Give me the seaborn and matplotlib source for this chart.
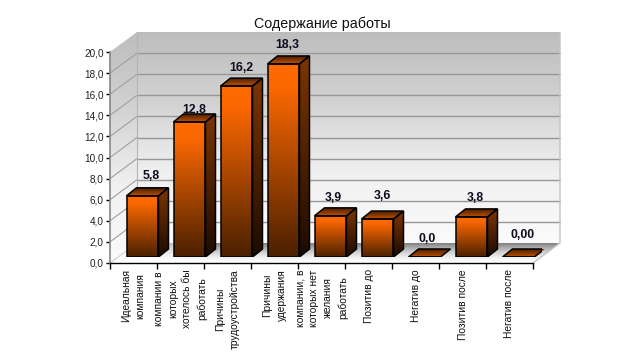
import numpy as np
import seaborn as sns
import matplotlib
matplotlib.use('Agg')
import matplotlib.pyplot as plt
from matplotlib.colors import LinearSegmentedColormap
from matplotlib.patches import Polygon

categories = ['Идеальная\nкомпания', 'компании в\nкоторых\nхотелось бы\nработать', 'Причины\nтрудоустройства',
	'Причины\nудержания', 'компании, в\nкоторых нет\nжелания\nработать', 'Позитив до', 'Негатив до',
	'Позитив после', 'Негатив после']
values = [5.8, 12.8, 16.2, 18.3, 3.9, 3.6, 0.0, 3.8, 0.0]
value_labels = ['5,8', '12,8', '16,2', '18,3', '3,9', '3,6', '0,0', '3,8', '0,00']
y_ticks = [0, 2, 4, 6, 8, 10, 12, 14, 16, 18, 20]
y_tick_labels = ['0,0', '2,0', '4,0', '6,0', '8,0', '10,0', '12,0', '14,0', '16,0', '18,0', '20,0']

# label nudges in px, the labels do not sit evenly over the bars
label_dx = [8.5, 4.5, 5, 4, 3, 4.7, 3, 4, 4]
label_dy = [12, 3.7, 10, 10.7, 10, 15, 10, 11, 14]

W, H = 644, 356
sns.set_theme(style='white')
plt.rcParams['font.family'] = ['Liberation Sans', 'DejaVu Sans']

fig = plt.figure(figsize=(W/100, H/100), dpi=100, facecolor='white')


def px_axes(left, top, right, bottom):
	return fig.add_axes([left/W, 1-bottom/H, (right-left)/W, (bottom-top)/H])


def grad(ax, extent, cmap, clip, zorder=1):
	im = ax.imshow(np.linspace(0, 1, 256).reshape(-1, 1), extent=extent, cmap=cmap, aspect='auto',
		origin='upper', zorder=zorder, vmin=0, vmax=1)
	im.set_clip_box(fig.bbox)
	im.set_clip_path(clip)
	return im


cm_wall = LinearSegmentedColormap.from_list('wall', ['#bdbdbd', '#d2d2d2', '#f0f0f0', '#fbfbfb'])
cm_front = LinearSegmentedColormap.from_list('front', [(0, '#ff6a00'), (0.12, '#fc6800'), (1, '#4a2000')])
cm_side = LinearSegmentedColormap.from_list('side', ['#7e3600', '#1c0b00'])
cm_top = LinearSegmentedColormap.from_list('top', ['#4a2000', '#c05000'])

# front plane axes, carries the ticks
ax = px_axes(110, 52, 533, 263)
ax.patch.set_visible(False)
xmin, xmax = -0.5, len(categories)-0.5
wall_dx = 27/47
wall_dy = 20/10.55

back = Polygon([(xmin+wall_dx, wall_dy), (xmax+wall_dx, wall_dy), (xmax+wall_dx, 20+wall_dy), (xmin+wall_dx, 20+wall_dy)],
	transform=ax.transData, fill=False, ec='none')
left = Polygon([(xmin, 0), (xmin+wall_dx, wall_dy), (xmin+wall_dx, 20+wall_dy), (xmin, 20)],
	transform=ax.transData, fill=False, ec='none')
floor = Polygon([(xmin, 0), (xmin+wall_dx, wall_dy), (xmax+wall_dx, wall_dy), (xmax, 0)],
	transform=ax.transData, fill=False, ec='none')
ax.add_patch(back)
ax.add_patch(left)
ax.add_patch(floor)
grad(ax, (xmin+wall_dx, xmax+wall_dx, wall_dy, 20+wall_dy), cm_wall, back)
grad(ax, (xmin, xmin+wall_dx, 0, 20+wall_dy), cm_wall, left)

# shadow on the floor, dark at the wall and fading out to the front and left
vfade = np.linspace(1, 0, 64)[:, None]**1.6
hfade = np.clip(np.linspace(-0.2, 5, 256), 0, 1)[None, :]
shadow = np.zeros((64, 256, 4))
shadow[..., :3] = 0.5
shadow[..., 3] = vfade*hfade
floor_im = ax.imshow(shadow, extent=(xmin, xmax+wall_dx, 0, wall_dy), aspect='auto', origin='upper', zorder=1)
floor_im.set_clip_box(fig.bbox)
floor_im.set_clip_path(floor)

for t in y_ticks[1:-1]:
	ax.plot([xmin+wall_dx, xmax+wall_dx], [t+wall_dy, t+wall_dy], color='#979797', lw=1, zorder=2, clip_on=False)
	ax.plot([xmin, xmin+wall_dx], [t, t+wall_dy], color='#a0a0a0', lw=0.8, zorder=2, clip_on=False)
ax.plot([xmin, xmin+wall_dx], [0, wall_dy], color='#d0d0d0', lw=0.8, zorder=2, clip_on=False)
ax.plot([xmax, xmax+wall_dx, xmax+wall_dx], [0, wall_dy, 20+wall_dy], color='#c4c4c4', lw=1, zorder=2, clip_on=False)
ax.plot([xmin+wall_dx, xmin+wall_dx], [wall_dy, 20+wall_dy], color='#b4b4b4', lw=0.8, zorder=2, clip_on=False)

ax.set_xlim(xmin, xmax)
ax.set_ylim(0, 20)
ax.set_yticks(y_ticks, labels=y_tick_labels)
ax.set_xticks(np.arange(xmin, xmax+1), labels=[])
ax.set_xticks(range(len(categories)), labels=categories, minor=True)
ax.tick_params(axis='y', length=3, width=1, color='black', left=True, pad=1.5, labelsize=7.2, labelcolor='#222222')
ax.tick_params(axis='x', which='major', length=4, width=1, color='black', bottom=True)
ax.tick_params(axis='x', which='minor', length=0, pad=4.5, labelsize=7.4, labelcolor='#111111')
for lab in ax.get_xticklabels(minor=True):
	lab.set_rotation(90)
	lab.set_ha('center')
	lab.set_va('top')
	lab.set_multialignment('center')
	lab.set_linespacing(1.5)
for side in ['top', 'right']:
	ax.spines[side].set_visible(False)
ax.spines['left'].set_color('#8a8a8a')
ax.spines['bottom'].set_color('black')
ax.spines['bottom'].set_linewidth(1)

# bars sit inside the box, so they get their own axes shifted from the front plane
bar_ax = px_axes(119, 46, 542, 257)
bar_ax.patch.set_visible(False)
sns.barplot(x=categories, y=values, ax=bar_ax, width=0.68, color='#ff6a00', edgecolor='black', linewidth=1.1, zorder=3)
bar_ax.set_xlim(xmin, xmax)
bar_ax.set_ylim(0, 20)
bar_ax.axis('off')

dx = 10/47
dy = 8/10.55
for i, bar in enumerate(list(bar_ax.patches)):
	x0 = bar.get_x()
	x1 = x0+bar.get_width()
	h = bar.get_height()
	bar.set_facecolor('none')
	bar.set_zorder(5)
	if h > 0:
		grad(bar_ax, (x0, x1, 0, h), cm_front, bar, zorder=3)
		side = Polygon([(x1, 0), (x1+dx, dy), (x1+dx, h+dy), (x1, h)], closed=True, fc='none', ec='black', lw=1.1, zorder=5)
		bar_ax.add_patch(side)
		grad(bar_ax, (x1, x1+dx, 0, h+dy), cm_side, side, zorder=3)
	top = Polygon([(x0, h), (x0+dx, h+dy), (x1+dx, h+dy), (x1, h)], closed=True, fc='none', ec='black', lw=1.1, zorder=5)
	bar_ax.add_patch(top)
	grad(bar_ax, (x0, x1+dx, h, h+dy), cm_top, top, zorder=3)
	bar_ax.annotate(value_labels[i], xy=((x0+x1)/2, h+dy), xytext=(label_dx[i]*0.72, label_dy[i]*0.72),
		textcoords='offset points', ha='center', va='center', fontsize=8.8, fontweight='bold',
		color='#0c0c1e', zorder=6, annotation_clip=False)
bar_ax.set_xlim(xmin, xmax)
bar_ax.set_ylim(0, 20)

fig.text(322/W, 1-24/H, 'Содержание работы', ha='center', va='center', fontsize=10.3, color='#111111')

fig.savefig('out.png', dpi=100)
plt.close(fig)
